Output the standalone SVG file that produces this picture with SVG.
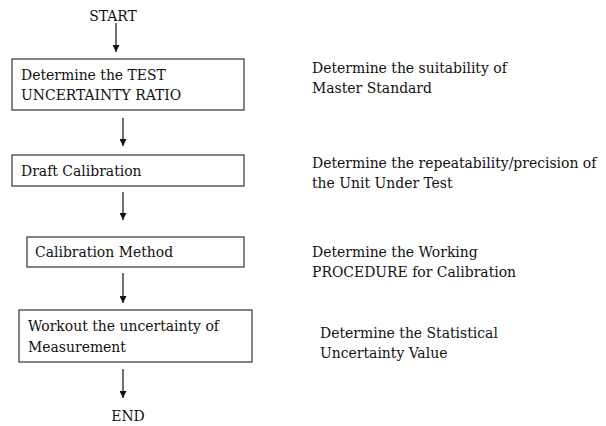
<svg xmlns="http://www.w3.org/2000/svg" width="606" height="426" viewBox="0 0 606 426">
<defs>
<style>
text{font-family:'DejaVu Serif Condensed','DejaVu Serif',serif;font-stretch:condensed;font-size:15.5px;fill:#111}
.box{fill:#fff;stroke:#444;stroke-width:1.3}
.con{stroke:#111;stroke-width:1.2;fill:none;marker-end:url(#ah)}
</style>
<marker id="ah" viewBox="0 0 10 10" refX="10" refY="5" markerWidth="7" markerHeight="7" markerUnits="userSpaceOnUse" orient="auto"><path d="M0,0 L10,5 L0,10 z" fill="#111"/></marker>
</defs>
<rect width="606" height="426" fill="#fff"/>
<g id="start"><text x="113" y="21" text-anchor="middle">START</text></g>
<g id="n1"><rect class="box" x="12" y="59" width="232" height="51"/><text x="21" y="80">Determine the TEST</text><text x="21" y="100">UNCERTAINTY RATIO</text></g>
<g id="n2"><rect class="box" x="12" y="155" width="232" height="31"/><text x="21" y="176">Draft Calibration</text></g>
<g id="n3"><rect class="box" x="27" y="237" width="217" height="30"/><text x="35" y="257">Calibration Method</text></g>
<g id="n4"><rect class="box" x="19" y="310" width="233" height="52"/><text x="28" y="331">Workout the uncertainty of</text><text x="28" y="352">Measurement</text></g>
<g id="end"><text x="128" y="421" text-anchor="middle">END</text></g>
<g id="d1"><text x="312" y="73">Determine the suitability of</text><text x="312" y="93">Master Standard</text></g>
<g id="d2"><text x="312" y="168">Determine the repeatability/precision of</text><text x="312" y="188">the Unit Under Test</text></g>
<g id="d3"><text x="312" y="257">Determine the Working</text><text x="312" y="277">PROCEDURE for Calibration</text></g>
<g id="d4"><text x="320" y="338">Determine the Statistical</text><text x="320" y="358">Uncertainty Value</text></g>
<g id="connectors">
<line class="con" x1="116" y1="23" x2="116" y2="52"/>
<line class="con" x1="123" y1="118" x2="123" y2="146"/>
<line class="con" x1="123" y1="192" x2="123" y2="220"/>
<line class="con" x1="123" y1="273" x2="123" y2="303"/>
<line class="con" x1="123" y1="369" x2="123" y2="398"/>
</g>
</svg>
